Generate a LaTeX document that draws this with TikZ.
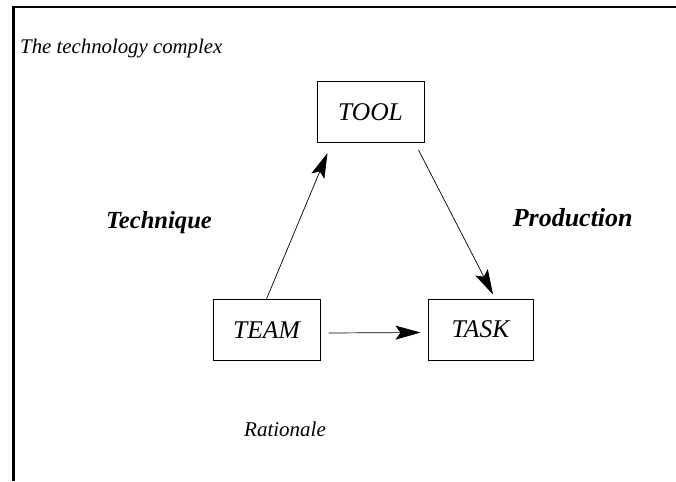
\documentclass[tikz,border=0pt]{standalone}
\usepackage{fontspec}
\setmainfont{Liberation Serif}
\usetikzlibrary{arrows.meta,calc}
\newcommand{\itfont}[1]{\fontsize{#1}{#1}\selectfont\itshape}
\newcommand{\bifont}[1]{\fontsize{#1}{#1}\selectfont\bfseries\itshape}
\begin{document}
\begin{tikzpicture}[x=1pt,y=-1pt,
  box/.style={draw,line width=1pt,inner sep=0pt,minimum width=107pt,minimum height=61pt,font=\itfont{25.5}},
  lbl/.style={inner sep=0pt,anchor=base},
  conn/.style={line width=0.7pt,-{Stealth[length=25pt,width=14pt,inset=5pt]}}]
\useasboundingbox (0,0) rectangle (676,481);
\draw[line width=2.2pt] (13.4,481) -- (13.4,7) -- (676,7);
\node[lbl,anchor=base west,font=\itfont{20.8}] (title) at (20,53.3) {The technology complex};
\node[box] (tool) at (370.5,112) {TOOL};
\node[box] (team) at (266.5,330) {TEAM};
\node[box,minimum width=105pt] (task) at (480.5,329.5) {TASK};
\node[lbl,font=\bifont{24.6}] (technique) at (159,228) {Technique};
\node[lbl,font=\bifont{26}] (production) at (572.7,226.7) {Production};
\node[lbl,font=\itfont{21}] (rationale) at (285,436) {Rationale};
\draw[conn] (team.north) -- ($(tool.south west)+(11,10)$);
\draw[conn] ($(tool.south east)+(-6,7)$) -- ($(task.north)+(12.5,-4)$);
\draw[conn] ($(team.east)+(8,3)$) -- ($(task.west)+(-7,3)$);
\end{tikzpicture}
\end{document}
